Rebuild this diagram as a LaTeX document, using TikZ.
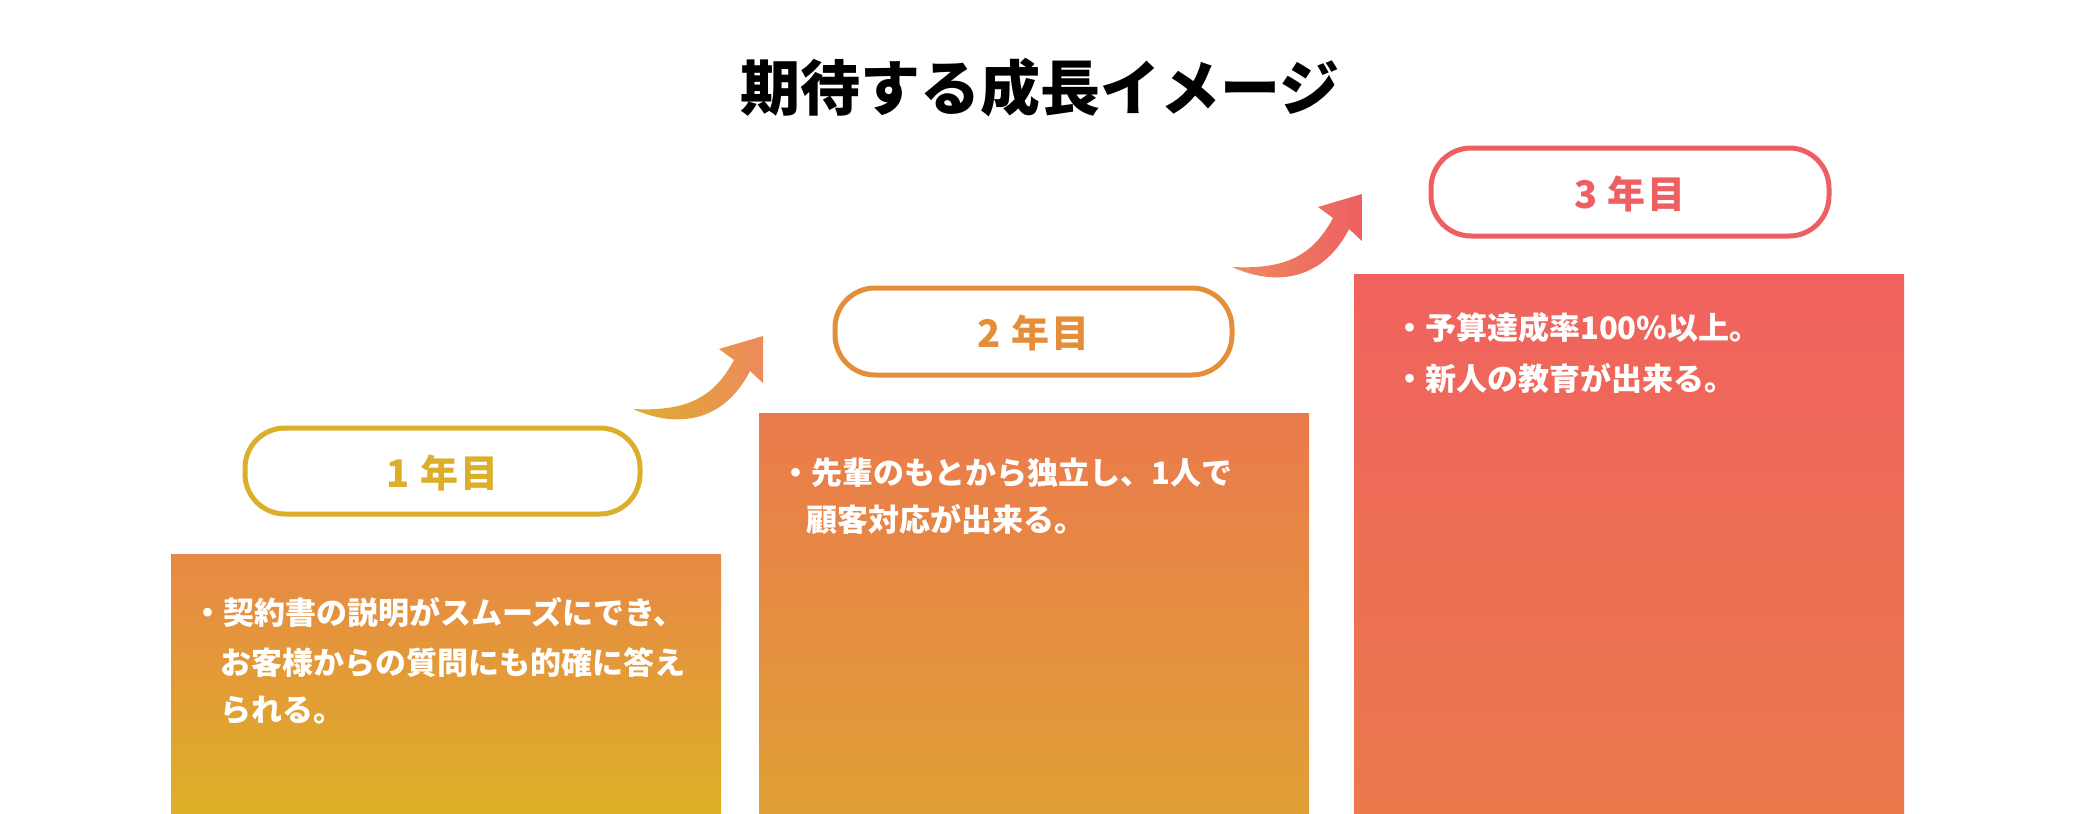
\documentclass[tikz,border=0pt]{standalone}
\usepackage{fontspec}
\setmainfont{Noto Sans CJK JP}
\definecolor{cA}{HTML}{DCAE2A}
\definecolor{cB}{HTML}{E58E3A}
\definecolor{cC}{HTML}{EE5F62}
\definecolor{bAt}{HTML}{E88845}
\definecolor{bAb}{HTML}{DDB027}
\definecolor{bBt}{HTML}{EA7A4C}
\definecolor{bBb}{HTML}{E0A036}
\definecolor{bCt}{HTML}{F0625E}
\definecolor{bCb}{HTML}{EA7A4C}
\definecolor{aO}{HTML}{EE8A5E}
\begin{document}
\begin{tikzpicture}[x=1pt,y=-1pt,
  pill/.style={line width=5pt,rounded corners=40pt,fill=white},
  plabel/.style={font=\fontsize{38}{42}\selectfont\bfseries},
  btxt/.style={anchor=base west,inner sep=0pt,text=white,font=\fontsize{31}{36}\selectfont\bfseries}]
\useasboundingbox (0,0) rectangle (2078,814);
\node[font=\fontsize{60}{66}\selectfont\bfseries] (title) at (1040,88) {期待する成長イメージ};
% boxes
\shade[top color=bAt,bottom color=bAb] (171,554) rectangle (721,814);
\shade[top color=bBt,bottom color=bBb] (759,413) rectangle (1309,814);
\shade[top color=bCt,bottom color=bCb] (1354,274) rectangle (1904,814);
% pills
\draw[pill,draw=cA] (245,428) rectangle (640,514);
\draw[pill,draw=cB] (835,288) rectangle (1232,375);
\draw[pill,draw=cC] (1431,148) rectangle (1829,236);
\node[plabel,text=cA] (p1) at (442.5,473) {1\hspace{10pt}年\hspace{2pt}目};
\node[plabel,text=cB] (p2) at (1033.5,333) {2\hspace{10pt}年\hspace{2pt}目};
\node[plabel,text=cC] (p3) at (1630,194) {3\hspace{10pt}年\hspace{2pt}目};
% arrows
\foreach \dx/\dy/\ca/\cb in {0/0/cA/aO, 599/-142/aO/cC}{
 \begin{scope}[shift={(\dx,\dy)}]
 \shade[left color=\ca,right color=\cb] (633,409) .. controls (690,412) and (715,395) .. (734,360)
  -- (719,349) -- (763,336) -- (763,383) -- (750,371)
  .. controls (725,420) and (680,430) .. (633,409) -- cycle;
 \end{scope}}
% texts
\node[btxt] (t1a) at (192,624) {・契約書の説明がスムーズにでき、};
\node[btxt] (t1b) at (220,674) {お客様からの質問にも的確に答え};
\node[btxt] (t1c) at (220,721) {られる。};
\node[btxt] (t2a) at (780,484) {・先輩のもとから独立し、1人で};
\node[btxt] (t2b) at (806,531) {顧客対応が出来る。};
\node[btxt] (t3a) at (1394,339) {・予算達成率100\%以上。};
\node[btxt] (t3b) at (1394,390) {・新人の教育が出来る。};
\end{tikzpicture}
\end{document}
